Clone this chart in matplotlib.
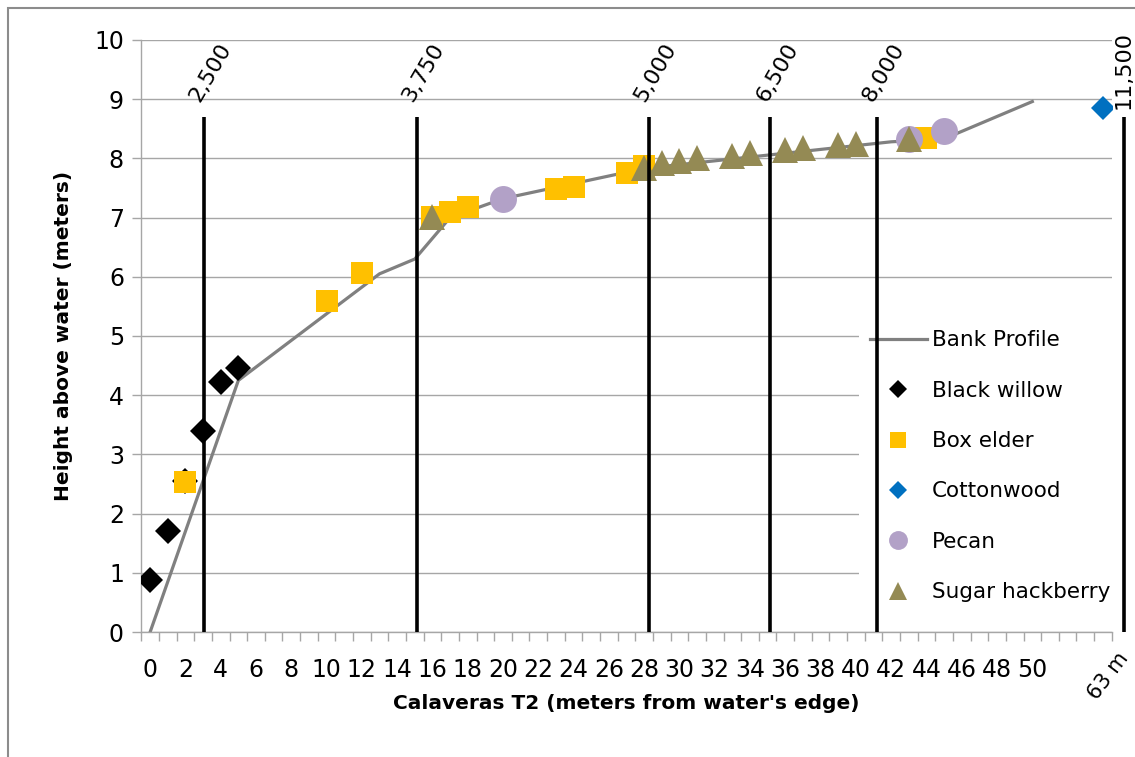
import matplotlib
matplotlib.use("Agg")
import matplotlib.pyplot as plt
from matplotlib.patches import Rectangle

plt.rcParams["font.family"] = "DejaVu Sans"

# --- data (x = category index along transect, y = height above water, m) ---
bank_x = [0, 5, 13, 15, 17, 20, 28, 42, 45, 50]
bank_y = [0, 4.25, 6.05, 6.3, 7.0, 7.32, 7.83, 8.28, 8.33, 8.96]

willow_x = [0, 1, 2, 3, 4, 5]
willow_y = [0.88, 1.71, 2.55, 3.40, 4.23, 4.46]

boxelder_x = [2, 10, 12, 16, 17, 18, 23, 24, 27, 28, 44]
boxelder_y = [2.54, 5.59, 6.06, 7.01, 7.09, 7.18, 7.48, 7.52, 7.75, 7.87, 8.34]

cotton_x = [54]
cotton_y = [8.85]

pecan_x = [20, 43, 45]
pecan_y = [7.31, 8.32, 8.46]

hack_x = [16, 28, 29, 30, 31, 33, 34, 36, 37, 39, 40, 43]
hack_y = [7.01, 7.83, 7.93, 7.95, 8.0, 8.04, 8.09, 8.14, 8.17, 8.23, 8.24, 8.33]

# distance markers along the river
dist_x = [3.05, 15.1, 28.25, 35.15, 41.2, 55.2]
dist_lbl = ["2,500", "3,750", "5,000", "6,500", "8,000", "11,500"]
dist_top = 8.7

xtick_pos = list(range(0, 51, 2))
xtick_lbl = [str(v) for v in xtick_pos]
ytick_pos = list(range(0, 11))

GRID = "#a6a6a6"

fig = plt.figure(figsize=(11.35, 7.57), dpi=100)
fig.patches.append(Rectangle((8 / 1135, -0.2), 1.3, 1.2 - 8 / 757, transform=fig.transFigure,
                             fill=False, edgecolor="#8c8c8c", lw=1.5))
ax = fig.add_axes([0.1245, 0.1651, 0.855, 0.7821])

h_bank, = ax.plot(bank_x, bank_y, color="#808080", lw=2.3, zorder=2, label="Bank Profile")
h_wil, = ax.plot(willow_x, willow_y, ls="none", marker="D", ms=13.7, mew=0, color="black",
                 zorder=3, label="Black willow")
h_box, = ax.plot(boxelder_x, boxelder_y, ls="none", marker="s", ms=15.8, mew=0, color="#FFC000",
                 zorder=3, label="Box elder")
h_cot, = ax.plot(cotton_x, cotton_y, ls="none", marker="D", ms=12.7, mew=0, color="#0070C0",
                 zorder=3, label="Cottonwood")
h_pec, = ax.plot(pecan_x, pecan_y, ls="none", marker="o", ms=19.4, mew=0, color="#B2A1C7",
                 zorder=3, label="Pecan")
h_hac, = ax.plot(hack_x, hack_y, ls="none", marker="^", ms=19.0, mew=0, color="#948A54",
                 zorder=3, label="Sugar hackberry")

for x, lbl in zip(dist_x, dist_lbl):
    ax.plot([x, x], [0, dist_top], color="black", lw=2.6, zorder=6, clip_on=False,
            solid_capstyle="butt")
    if lbl == "11,500":
        ax.text(x - 0.05, 9.49, lbl, rotation=90, ha="center", va="center", fontsize=16,
                clip_on=False)
    else:
        ax.text(x - 0.52, 8.98, lbl, rotation=60, rotation_mode="anchor", ha="left",
                va="center", fontsize=16)

ax.set_xlim(-0.5, 54.5)
ax.set_ylim(0, 10)
ax.set_xticks(xtick_pos)
ax.set_xticklabels(xtick_lbl)
ax.set_xticks([v - 0.5 for v in range(0, 56)], minor=True)
ax.set_yticks(ytick_pos)
ax.tick_params(axis="x", which="major", length=0, pad=19, labelsize=17)
ax.tick_params(axis="x", which="minor", length=6.5, width=1, color=GRID, direction="out")
ax.tick_params(axis="y", length=6.5, width=1, color=GRID, pad=6, labelsize=17)
ax.text(54.3, -0.74, "63 m", rotation=53, rotation_mode="anchor", ha="center", va="center",
        fontsize=15, clip_on=False)

ax.yaxis.grid(True, color=GRID, lw=1.0)
ax.set_axisbelow(True)
for s in ["top", "right"]:
    ax.spines[s].set_visible(False)
for s in ["left", "bottom"]:
    ax.spines[s].set_color(GRID)
    ax.spines[s].set_linewidth(1.0)

ax.set_xlabel("Calaveras T2 (meters from water's edge)", fontsize=14.5, weight="bold", labelpad=8)
ax.set_ylabel("Height above water (meters)", fontsize=14.5, weight="bold", labelpad=15)

leg = ax.legend(handles=[h_bank, h_wil, h_box, h_cot, h_pec, h_hac], loc="center left",
                bbox_to_anchor=(0.7396, 0.280), frameon=True, facecolor="white",
                edgecolor="none", framealpha=1, fontsize=15.5, handlelength=2.65,
                handletextpad=0.25, labelspacing=1.41, borderpad=0.5, markerscale=0.7,
                borderaxespad=0)
leg.set_zorder(5)

fig.savefig("out.png", dpi=100)
